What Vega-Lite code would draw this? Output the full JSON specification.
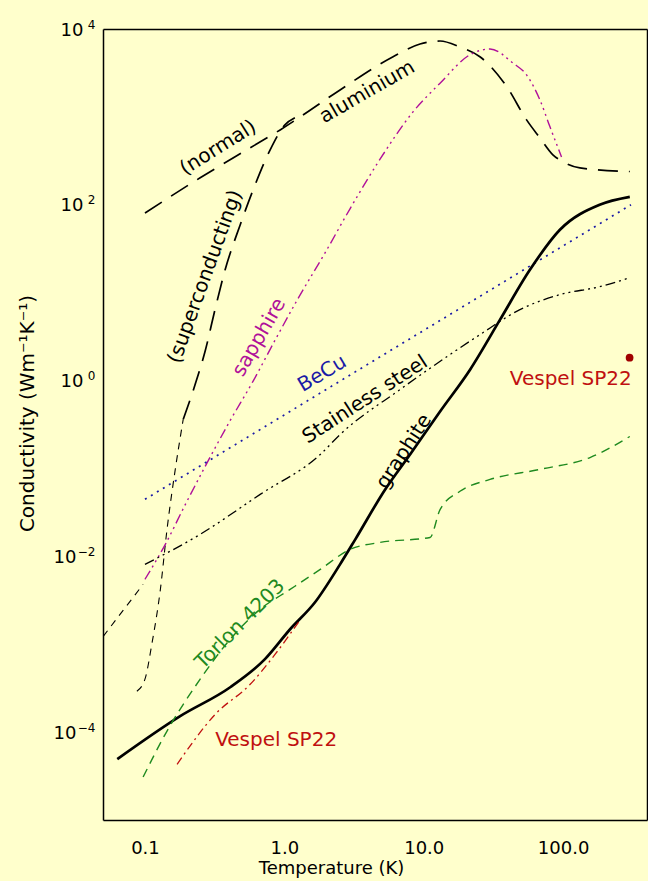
{
  "$schema": "https://vega.github.io/schema/vega-lite/v6.json",
  "width": 544,
  "height": 791,
  "autosize": {"type": "none"},
  "padding": {"left": 103, "top": 29, "right": 1, "bottom": 61},
  "background": "#FFFFCC",
  "config": {
    "view": {"stroke": null},
    "axis": {"grid": false, "ticks": false, "domainColor": "black", "domainWidth": 1.5, "labelColor": "black", "titleColor": "black", "labelFont": "DejaVu Sans", "titleFont": "DejaVu Sans", "titleFontWeight": "normal", "labelOverlap": false, "labelBound": false, "labelFlush": false},
    "text": {"font": "DejaVu Sans"},
    "line": {"interpolate": "monotone", "clip": true}
  },
  "datasets": {
    "curves": [
      {"series": "Al", "T": 0.1, "k": 80.5},
      {"series": "Al", "T": 0.249, "k": 203},
      {"series": "Al", "T": 0.569, "k": 445},
      {"series": "Al", "T": 0.933, "k": 711},
      {"series": "Al", "T": 1.3, "k": 1000},
      {"series": "Al", "T": 2.51, "k": 2027},
      {"series": "Al", "T": 6.03, "k": 4840},
      {"series": "Al", "T": 9.41, "k": 6760},
      {"series": "Al", "T": 13.1, "k": 7300},
      {"series": "Al", "T": 18.2, "k": 6240},
      {"series": "Al", "T": 25.3, "k": 4840},
      {"series": "Al", "T": 39.4, "k": 2210},
      {"series": "Al", "T": 54.7, "k": 925},
      {"series": "Al", "T": 68.2, "k": 577},
      {"series": "Al", "T": 84.5, "k": 370},
      {"series": "Al", "T": 99, "k": 311},
      {"series": "Al", "T": 132, "k": 263},
      {"series": "Al", "T": 301, "k": 239},
      {"series": "AlSC", "T": 0.188, "k": 0.36},
      {"series": "AlSC", "T": 0.229, "k": 0.9},
      {"series": "AlSC", "T": 0.271, "k": 2.2},
      {"series": "AlSC", "T": 0.318, "k": 6.4},
      {"series": "AlSC", "T": 0.376, "k": 18.2},
      {"series": "AlSC", "T": 0.482, "k": 59},
      {"series": "AlSC", "T": 0.617, "k": 169},
      {"series": "AlSC", "T": 0.791, "k": 422},
      {"series": "AlSC", "T": 1.01, "k": 811},
      {"series": "AlSC", "T": 1.19, "k": 975},
      {"series": "AlSClow", "T": 0.0875, "k": 0.000292},
      {"series": "AlSClow", "T": 0.1, "k": 0.0004},
      {"series": "AlSClow", "T": 0.112, "k": 0.001},
      {"series": "AlSClow", "T": 0.129, "k": 0.0042},
      {"series": "AlSClow", "T": 0.144, "k": 0.0203},
      {"series": "AlSClow", "T": 0.165, "k": 0.0975},
      {"series": "AlSClow", "T": 0.188, "k": 0.36},
      {"series": "LowExt", "T": 0.0502, "k": 0.00123},
      {"series": "LowExt", "T": 0.097, "k": 0.0048},
      {"series": "Sapphire", "T": 0.1, "k": 0.00548},
      {"series": "Sapphire", "T": 0.14, "k": 0.0137},
      {"series": "Sapphire", "T": 0.195, "k": 0.039},
      {"series": "Sapphire", "T": 0.27, "k": 0.105},
      {"series": "Sapphire", "T": 0.4, "k": 0.33},
      {"series": "Sapphire", "T": 0.6, "k": 1.0},
      {"series": "Sapphire", "T": 0.86, "k": 2.9},
      {"series": "Sapphire", "T": 1.25, "k": 8.5},
      {"series": "Sapphire", "T": 1.95, "k": 28},
      {"series": "Sapphire", "T": 2.96, "k": 90},
      {"series": "Sapphire", "T": 4.86, "k": 330},
      {"series": "Sapphire", "T": 8.38, "k": 1140},
      {"series": "Sapphire", "T": 13.1, "k": 2415},
      {"series": "Sapphire", "T": 21.5, "k": 5100},
      {"series": "Sapphire", "T": 29.9, "k": 5930},
      {"series": "Sapphire", "T": 43.6, "k": 4110},
      {"series": "Sapphire", "T": 54.7, "k": 3000},
      {"series": "Sapphire", "T": 68.2, "k": 1560},
      {"series": "Sapphire", "T": 80.4, "k": 775},
      {"series": "Sapphire", "T": 97.5, "k": 350},
      {"series": "BeCu", "T": 0.1, "k": 0.0445},
      {"series": "BeCu", "T": 307, "k": 100},
      {"series": "Steel", "T": 0.1, "k": 0.0081},
      {"series": "Steel", "T": 0.249, "k": 0.0178},
      {"series": "Steel", "T": 0.671, "k": 0.0507},
      {"series": "Steel", "T": 1.81, "k": 0.144},
      {"series": "Steel", "T": 2.51, "k": 0.243},
      {"series": "Steel", "T": 6.76, "k": 0.79},
      {"series": "Steel", "T": 15.4, "k": 1.97},
      {"series": "Steel", "T": 25.3, "k": 3.33},
      {"series": "Steel", "T": 49, "k": 6.41},
      {"series": "Steel", "T": 94.9, "k": 9.5},
      {"series": "Steel", "T": 183, "k": 11.7},
      {"series": "Steel", "T": 301, "k": 14.8},
      {"series": "Graphite", "T": 0.0633, "k": 0.0000493},
      {"series": "Graphite", "T": 0.179, "k": 0.000152},
      {"series": "Graphite", "T": 0.409, "k": 0.000324},
      {"series": "Graphite", "T": 0.726, "k": 0.000676},
      {"series": "Graphite", "T": 1.1, "k": 0.00148},
      {"series": "Graphite", "T": 1.66, "k": 0.003},
      {"series": "Graphite", "T": 2.51, "k": 0.0081},
      {"series": "Graphite", "T": 3.23, "k": 0.0156},
      {"series": "Graphite", "T": 5.29, "k": 0.0577},
      {"series": "Graphite", "T": 7.98, "k": 0.144},
      {"series": "Graphite", "T": 13.1, "k": 0.445},
      {"series": "Graphite", "T": 21.5, "k": 1.33},
      {"series": "Graphite", "T": 35.3, "k": 4.93},
      {"series": "Graphite", "T": 57.8, "k": 18.2},
      {"series": "Graphite", "T": 94.9, "k": 52},
      {"series": "Graphite", "T": 183, "k": 100},
      {"series": "Graphite", "T": 301, "k": 123},
      {"series": "Torlon", "T": 0.097, "k": 0.0000308},
      {"series": "Torlon", "T": 0.14, "k": 0.000095},
      {"series": "Torlon", "T": 0.249, "k": 0.0004},
      {"series": "Torlon", "T": 0.409, "k": 0.00114},
      {"series": "Torlon", "T": 0.671, "k": 0.0025},
      {"series": "Torlon", "T": 1.1, "k": 0.0042},
      {"series": "Torlon", "T": 1.81, "k": 0.0071},
      {"series": "Torlon", "T": 2.96, "k": 0.012},
      {"series": "Torlon", "T": 4.86, "k": 0.0144},
      {"series": "Torlon", "T": 11.1, "k": 0.0164},
      {"series": "Torlon", "T": 13.1, "k": 0.034},
      {"series": "Torlon", "T": 18.2, "k": 0.055},
      {"series": "Torlon", "T": 29.9, "k": 0.075},
      {"series": "Torlon", "T": 68.2, "k": 0.0975},
      {"series": "Torlon", "T": 156, "k": 0.133},
      {"series": "Torlon", "T": 301, "k": 0.231},
      {"series": "Vespel", "T": 0.17, "k": 0.000043},
      {"series": "Vespel", "T": 0.32, "k": 0.00016},
      {"series": "Vespel", "T": 0.569, "k": 0.00035},
      {"series": "Vespel", "T": 0.86, "k": 0.00077},
      {"series": "Vespel", "T": 1.3, "k": 0.0019}
    ],
    "labels": [
      {"label": "(normal)", "T": 0.335, "k": 445},
      {"label": "aluminium", "T": 3.93, "k": 1923},
      {"label": "(superconducting)", "T": 0.27, "k": 15.2},
      {"label": "sapphire", "T": 0.66, "k": 3.1},
      {"label": "BeCu", "T": 1.87, "k": 1.2},
      {"label": "Stainless steel", "T": 3.8, "k": 0.608},
      {"label": "graphite", "T": 7.22, "k": 0.156},
      {"label": "Torlon 4203", "T": 0.482, "k": 0.00169},
      {"label": "Vespel SP22", "T": 0.873, "k": 0.000081},
      {"label": "Vespel SP22", "T": 311, "k": 1.03}
    ],
    "points": [
      {"label": "Vespel SP22 300K", "T": 300, "k": 1.82}
    ],
    "xticks": [
      {"T": 0.06, "major": false}, {"T": 0.07, "major": false}, {"T": 0.08, "major": false}, {"T": 0.09, "major": false},
      {"T": 0.1, "major": true},
      {"T": 0.2, "major": false}, {"T": 0.3, "major": false}, {"T": 0.4, "major": false}, {"T": 0.5, "major": false},
      {"T": 0.6, "major": false}, {"T": 0.7, "major": false}, {"T": 0.8, "major": false}, {"T": 0.9, "major": false},
      {"T": 1, "major": true},
      {"T": 2, "major": false}, {"T": 3, "major": false}, {"T": 4, "major": false}, {"T": 5, "major": false},
      {"T": 6, "major": false}, {"T": 7, "major": false}, {"T": 8, "major": false}, {"T": 9, "major": false},
      {"T": 10, "major": true},
      {"T": 20, "major": false}, {"T": 30, "major": false}, {"T": 40, "major": false}, {"T": 50, "major": false},
      {"T": 60, "major": false}, {"T": 70, "major": false}, {"T": 80, "major": false}, {"T": 90, "major": false},
      {"T": 100, "major": true},
      {"T": 200, "major": false}, {"T": 300, "major": false}
    ],
    "yticks": [
      {"k": 0.00001, "major": false}, {"k": 0.0001, "major": true}, {"k": 0.001, "major": false},
      {"k": 0.01, "major": true}, {"k": 0.1, "major": false}, {"k": 1, "major": true},
      {"k": 10, "major": false}, {"k": 100, "major": true}, {"k": 1000, "major": false}, {"k": 10000, "major": true}
    ]
  },
  "encoding": {
    "x": {"field": "T", "type": "quantitative", "scale": {"type": "log", "domain": [0.05, 400], "nice": false}, "axis": null},
    "y": {"field": "k", "type": "quantitative", "scale": {"type": "log", "domain": [0.00001, 10000], "nice": false}, "axis": null}
  },
  "layer": [
    {
      "data": {"name": "curves"},
      "mark": {"type": "point", "opacity": 0},
      "encoding": {
        "x": {
          "field": "T", "type": "quantitative",
          "scale": {"type": "log", "domain": [0.05, 400], "nice": false},
          "axis": {
            "orient": "bottom",
            "values": [0.1, 1, 10, 100],
            "labelExpr": "datum.value==0.1?'0.1':datum.value==1?'1.0':datum.value==10?'10.0':'100.0'",
            "labelFontSize": 18,
            "labelPadding": 19,
            "title": "Temperature (K)",
            "titleFontSize": 18,
            "titleX": 228,
            "titleY": 48,
            "titleBaseline": "middle",
            "titleAlign": "center"
          }
        },
        "y": {
          "field": "k", "type": "quantitative",
          "scale": {"type": "log", "domain": [0.00001, 10000], "nice": false},
          "axis": {
            "orient": "left",
            "values": [1, 100, 10000],
            "labelExpr": "'10'",
            "labelFontSize": 18,
            "labelPadding": 20,
            "labelOffset": 1,
            "title": "Conductivity (Wm⁻¹K⁻¹)",
            "titleFontSize": 20,
            "titleX": -76,
            "titleY": 384,
            "titleAngle": -90,
            "titleBaseline": "middle",
            "titleAlign": "center"
          }
        }
      }
    },
    {
      "data": {"name": "curves"},
      "mark": {"type": "point", "opacity": 0},
      "encoding": {
        "x": {
          "field": "T", "type": "quantitative",
          "scale": {"type": "log", "domain": [0.05, 400], "nice": false},
          "axis": {"orient": "top", "values": [0.1], "labels": false, "title": null}
        },
        "y": {
          "field": "k", "type": "quantitative",
          "scale": {"type": "log", "domain": [0.00001, 10000], "nice": false},
          "axis": {"orient": "left", "values": [0.0001, 0.01], "labelExpr": "'10'", "labelFontSize": 18, "labelPadding": 27, "labelOffset": 1, "title": null, "domain": false}
        }
      }
    },
    {
      "data": {"name": "curves"},
      "mark": {"type": "point", "opacity": 0},
      "encoding": {
        "y": {
          "field": "k", "type": "quantitative",
          "scale": {"type": "log", "domain": [0.00001, 10000], "nice": false},
          "axis": {"orient": "left", "values": [0.0001, 0.01, 1, 100, 10000], "labelExpr": "datum.value==10000?'4':datum.value==100?'2':datum.value==1?'0':datum.value==0.01?'−2':'−4'", "labelFontSize": 12, "labelPadding": 8, "labelOffset": -5, "title": null, "domain": false}
        }
      }
    },
    {
      "data": {"name": "curves"},
      "mark": {"type": "point", "opacity": 0},
      "encoding": {
        "y": {
          "field": "k", "type": "quantitative",
          "scale": {"type": "log", "domain": [0.00001, 10000], "nice": false},
          "axis": {"orient": "right", "values": [1], "labels": false, "title": null}
        }
      }
    },
    {
      "data": {"name": "xticks"},
      "transform": [{"filter": "datum.major"}],
      "mark": {"type": "point", "shape": "M0,0L0,-1", "size": 784, "filled": false, "color": "black", "strokeWidth": 1.4, "opacity": 1},
      "encoding": {"y": {"datum": 0.00001, "type": "quantitative", "scale": {"type": "log", "domain": [0.00001, 10000], "nice": false}, "axis": null}}
    },
    {
      "data": {"name": "xticks"},
      "transform": [{"filter": "!datum.major"}],
      "mark": {"type": "point", "shape": "M0,0L0,-1", "size": 196, "filled": false, "color": "black", "strokeWidth": 1.4, "opacity": 1},
      "encoding": {"y": {"datum": 0.00001, "type": "quantitative", "scale": {"type": "log", "domain": [0.00001, 10000], "nice": false}, "axis": null}}
    },
    {
      "data": {"name": "xticks"},
      "transform": [{"filter": "datum.major"}],
      "mark": {"type": "point", "shape": "M0,0L0,1", "size": 784, "filled": false, "color": "black", "strokeWidth": 1.4, "opacity": 1},
      "encoding": {"y": {"datum": 10000, "type": "quantitative", "scale": {"type": "log", "domain": [0.00001, 10000], "nice": false}, "axis": null}}
    },
    {
      "data": {"name": "xticks"},
      "transform": [{"filter": "!datum.major"}],
      "mark": {"type": "point", "shape": "M0,0L0,1", "size": 196, "filled": false, "color": "black", "strokeWidth": 1.4, "opacity": 1},
      "encoding": {"y": {"datum": 10000, "type": "quantitative", "scale": {"type": "log", "domain": [0.00001, 10000], "nice": false}, "axis": null}}
    },
    {
      "data": {"name": "yticks"},
      "transform": [{"filter": "datum.major"}],
      "mark": {"type": "point", "shape": "M0,0L1,0", "size": 400, "filled": false, "color": "black", "strokeWidth": 1.4, "opacity": 1},
      "encoding": {"x": {"datum": 0.05, "type": "quantitative", "scale": {"type": "log", "domain": [0.05, 400], "nice": false}, "axis": null}}
    },
    {
      "data": {"name": "yticks"},
      "transform": [{"filter": "!datum.major"}],
      "mark": {"type": "point", "shape": "M0,0L1,0", "size": 100, "filled": false, "color": "black", "strokeWidth": 1.4, "opacity": 1},
      "encoding": {"x": {"datum": 0.05, "type": "quantitative", "scale": {"type": "log", "domain": [0.05, 400], "nice": false}, "axis": null}}
    },
    {
      "data": {"name": "yticks"},
      "transform": [{"filter": "datum.major"}],
      "mark": {"type": "point", "shape": "M0,0L-1,0", "size": 400, "filled": false, "color": "black", "strokeWidth": 1.4, "opacity": 1},
      "encoding": {"x": {"datum": 400, "type": "quantitative", "scale": {"type": "log", "domain": [0.05, 400], "nice": false}, "axis": null}}
    },
    {
      "data": {"name": "yticks"},
      "transform": [{"filter": "!datum.major"}],
      "mark": {"type": "point", "shape": "M0,0L-1,0", "size": 100, "filled": false, "color": "black", "strokeWidth": 1.4, "opacity": 1},
      "encoding": {"x": {"datum": 400, "type": "quantitative", "scale": {"type": "log", "domain": [0.05, 400], "nice": false}, "axis": null}}
    },
    {
      "data": {"name": "curves"},
      "transform": [{"filter": "datum.series=='Al' || datum.series=='AlSC'"}],
      "mark": {"type": "line", "color": "black", "strokeDash": [20, 11], "strokeWidth": 1.7},
      "encoding": {"detail": {"field": "series"}}
    },
    {
      "data": {"name": "curves"},
      "transform": [{"filter": "datum.series=='AlSClow' || datum.series=='LowExt'"}],
      "mark": {"type": "line", "color": "black", "strokeDash": [7, 6], "strokeWidth": 1.1},
      "encoding": {"detail": {"field": "series"}}
    },
    {
      "data": {"name": "curves"},
      "transform": [{"filter": "datum.series=='Sapphire'"}],
      "mark": {"type": "line", "color": "#B0109A", "strokeDash": [10, 4, 2, 4, 2, 4, 2, 4], "strokeWidth": 1.4}
    },
    {
      "data": {"name": "curves"},
      "transform": [{"filter": "datum.series=='BeCu'"}],
      "mark": {"type": "line", "color": "#1A1AA6", "strokeDash": [2, 5], "strokeWidth": 1.7, "interpolate": "linear"}
    },
    {
      "data": {"name": "curves"},
      "transform": [{"filter": "datum.series=='Steel'"}],
      "mark": {"type": "line", "color": "black", "strokeDash": [10, 4, 2, 4, 2, 4, 2, 4], "strokeWidth": 1.3}
    },
    {
      "data": {"name": "curves"},
      "transform": [{"filter": "datum.series=='Graphite'"}],
      "mark": {"type": "line", "color": "black", "strokeWidth": 2.7}
    },
    {
      "data": {"name": "curves"},
      "transform": [{"filter": "datum.series=='Torlon'"}],
      "mark": {"type": "line", "color": "#1F8A1F", "strokeDash": [9, 6], "strokeWidth": 1.4}
    },
    {
      "data": {"name": "curves"},
      "transform": [{"filter": "datum.series=='Vespel'"}],
      "mark": {"type": "line", "color": "#C01010", "strokeDash": [8, 4, 2, 4], "strokeWidth": 1.3}
    },
    {
      "data": {"name": "points"},
      "mark": {"type": "point", "filled": true, "color": "#A00000", "size": 60, "opacity": 1}
    },
    {
      "data": {"name": "labels"},
      "transform": [{"filter": "datum.label=='(normal)'"}],
      "mark": {"type": "text", "angle": -32, "fontSize": 20, "color": "black"},
      "encoding": {"text": {"field": "label"}}
    },
    {
      "data": {"name": "labels"},
      "transform": [{"filter": "datum.label=='aluminium'"}],
      "mark": {"type": "text", "angle": -30, "fontSize": 20, "color": "black"},
      "encoding": {"text": {"field": "label"}}
    },
    {
      "data": {"name": "labels"},
      "transform": [{"filter": "datum.label=='(superconducting)'"}],
      "mark": {"type": "text", "angle": -70, "fontSize": 20, "color": "black"},
      "encoding": {"text": {"field": "label"}}
    },
    {
      "data": {"name": "labels"},
      "transform": [{"filter": "datum.label=='sapphire'"}],
      "mark": {"type": "text", "angle": -60, "fontSize": 20, "color": "#B0109A"},
      "encoding": {"text": {"field": "label"}}
    },
    {
      "data": {"name": "labels"},
      "transform": [{"filter": "datum.label=='BeCu'"}],
      "mark": {"type": "text", "angle": -31, "fontSize": 20, "color": "#1A1AA6"},
      "encoding": {"text": {"field": "label"}}
    },
    {
      "data": {"name": "labels"},
      "transform": [{"filter": "datum.label=='Stainless steel'"}],
      "mark": {"type": "text", "angle": -33, "fontSize": 20, "color": "black"},
      "encoding": {"text": {"field": "label"}}
    },
    {
      "data": {"name": "labels"},
      "transform": [{"filter": "datum.label=='graphite'"}],
      "mark": {"type": "text", "angle": -57, "fontSize": 20, "color": "black"},
      "encoding": {"text": {"field": "label"}}
    },
    {
      "data": {"name": "labels"},
      "transform": [{"filter": "datum.label=='Torlon 4203'"}],
      "mark": {"type": "text", "angle": -45, "fontSize": 20, "color": "#1F8A1F"},
      "encoding": {"text": {"field": "label"}}
    },
    {
      "data": {"name": "labels"},
      "transform": [{"filter": "datum.label=='Vespel SP22' && datum.T<10"}],
      "mark": {"type": "text", "fontSize": 20, "color": "#C01010"},
      "encoding": {"text": {"field": "label"}}
    },
    {
      "data": {"name": "labels"},
      "transform": [{"filter": "datum.label=='Vespel SP22' && datum.T>10"}],
      "mark": {"type": "text", "fontSize": 20, "color": "#C01010", "align": "right"},
      "encoding": {"text": {"field": "label"}}
    }
  ],
  "resolve": {"axis": {"x": "independent", "y": "independent"}}
}
